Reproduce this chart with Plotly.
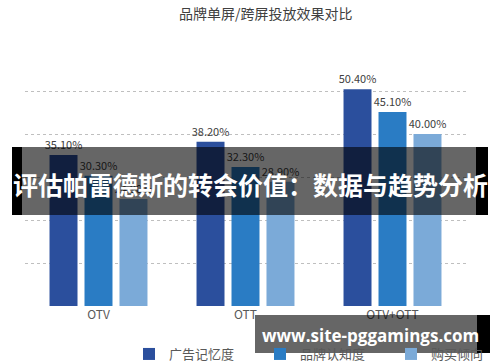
import plotly.graph_objects as go

categories = ["OTV", "OTT", "OTV+OTT"]
series_names = ["广告记忆度", "品牌认知度", "购买倾向"]
ad_recall = [35.1, 38.2, 50.4]
brand_awareness = [30.3, 32.3, 45.1]
purchase_intent = [24.9, 28.9, 40.0]
colors = ["#2B4F9D", "#2A7CC4", "#7BAAD8"]

title_text = "品牌单屏/跨屏投放效果对比"
banner_text = "评估帕雷德斯的转会价值：数据与趋势分析"
watermark_text = "www.site-pggamings.com"

W, H = 500, 362
L, R, T, B = 25, 466, 48, 306


def px(x):
    return (x - L) / (R - L)


def py(y):
    return (B - y) / (B - T)


fig = go.Figure()
for name, vals, col in zip(series_names, [ad_recall, brand_awareness, purchase_intent], colors):
    fig.add_trace(go.Bar(
        x=categories, y=vals, name=name, marker=dict(color=col, line=dict(width=0)),
        text=[f"{v:.2f}%" for v in vals], textposition="outside", constraintext="none",
        textfont=dict(size=11, color="#404040"), cliponaxis=False,
    ))

font_cjk = "Noto Sans CJK SC, Open Sans, sans-serif"

shapes = [
    # banner
    dict(type="rect", xref="paper", yref="paper", x0=px(22), x1=px(476), y0=py(215), y1=py(147),
         fillcolor="rgba(0,0,0,0.6)", line=dict(width=0), layer="above"),
    dict(type="rect", xref="paper", yref="paper", x0=px(12), x1=px(22), y0=py(215), y1=py(147),
         fillcolor="#000000", line=dict(width=0), layer="above"),
    dict(type="rect", xref="paper", yref="paper", x0=px(476), x1=px(488), y0=py(215), y1=py(147),
         fillcolor="#000000", line=dict(width=0), layer="above"),
    # watermark box
    dict(type="rect", xref="paper", yref="paper", x0=px(255), x1=px(477), y0=py(353), y1=py(315),
         fillcolor="rgba(0,0,0,0.6)", line=dict(width=0), layer="above"),
    dict(type="rect", xref="paper", yref="paper", x0=px(477), x1=px(490), y0=py(353), y1=py(315),
         fillcolor="#000000", line=dict(width=0), layer="above"),
]

annotations = [
    dict(text=title_text, xref="paper", yref="paper", x=px(266), y=py(13), showarrow=False,
         xanchor="center", yanchor="middle", font=dict(size=14, color="#404040", family=font_cjk)),
    dict(text=f"<b>{banner_text}</b>", xref="paper", yref="paper", x=px(250), y=py(184), showarrow=False,
         xanchor="center", yanchor="middle", font=dict(size=25, color="#ffffff", family=font_cjk)),
    dict(text=f"<b>{watermark_text}</b>", xref="paper", yref="paper", x=px(370), y=py(335), showarrow=False,
         xanchor="center", yanchor="middle", font=dict(size=17, color="#ffffff", family="Open Sans, sans-serif")),
]

fig.update_layout(
    width=W, height=H,
    margin=dict(l=L, r=W - R, t=T, b=H - B, pad=0, autoexpand=False),
    paper_bgcolor="white", plot_bgcolor="white",
    barmode="group", bargap=0.286, bargroupgap=0.2,
    font=dict(family=font_cjk, color="#595959"),
    showlegend=True,
    legend=dict(orientation="h", x=px(129), xanchor="left", y=py(354), yanchor="middle",
                font=dict(size=13, color="#595959"), entrywidth=86, entrywidthmode="pixels",
                itemwidth=30, bgcolor="rgba(0,0,0,0)"),
    shapes=shapes, annotations=annotations,
    xaxis=dict(showgrid=False, showline=False, ticks="", tickfont=dict(size=12, color="#595959")),
    yaxis=dict(range=[0, 60], dtick=10, showticklabels=False, showgrid=True, gridcolor="#BFBFBF",
               griddash="dot", gridwidth=1, zeroline=False, showline=False),
)

fig.write_html("out.html", config={"displayModeBar": False},
               post_script="document.body.style.margin='0';")
